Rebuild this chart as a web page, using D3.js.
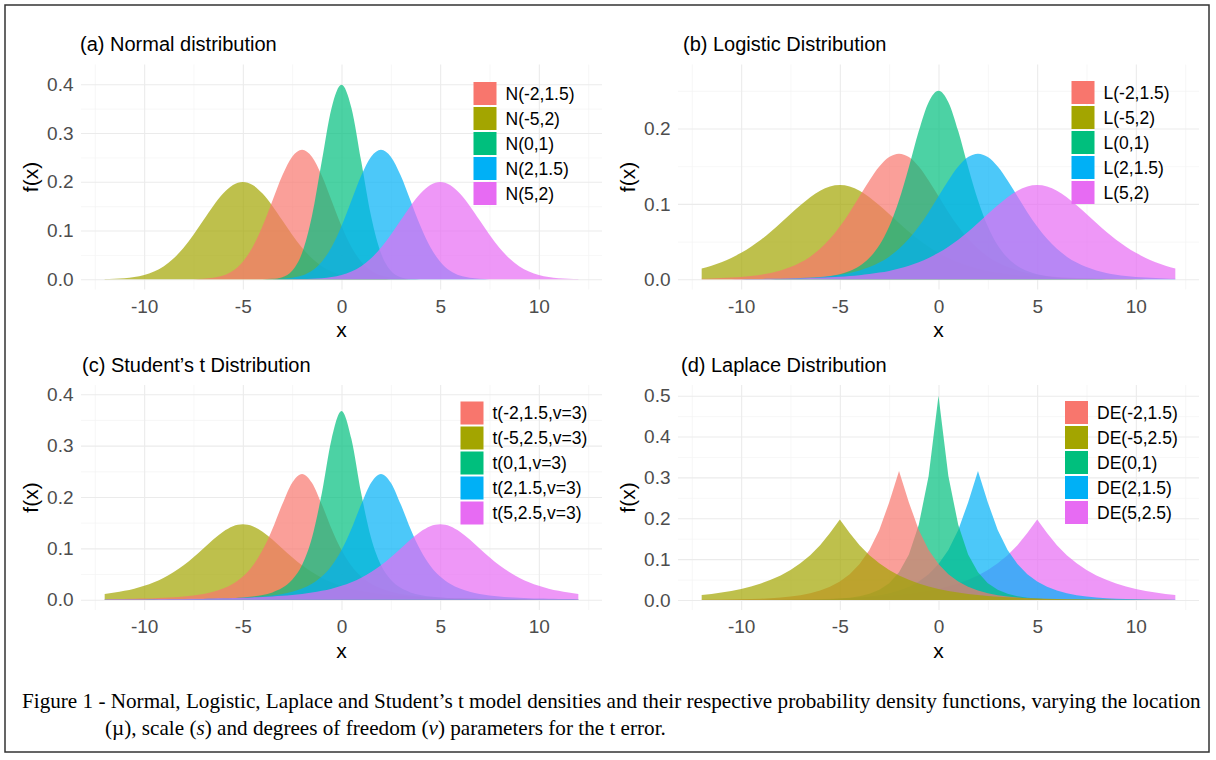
<!DOCTYPE html>
<html>
<head>
<meta charset="utf-8">
<script src="https://cdn.jsdelivr.net/npm/d3@7"></script>
<style>
  body { margin: 0; background: #fff; }
  svg { display: block; font-family: "Liberation Sans", Arial, sans-serif; }
</style>
</head>
<body>
<svg id="fig" width="1216" height="760"></svg>
<script>
// x grid shared by every density curve
const xGrid = [-12,-11.5,-11,-10.5,-10,-9.5,-9,-8.5,-8,-7.5,-7,-6.5,-6,-5.5,-5,-4.5,-4,-3.5,-3,-2.5,-2,-1.5,-1,-0.5,0,0.5,1,1.5,2,2.5,3,3.5,4,4.5,5,5.5,6,6.5,7,7.5,8,8.5,9,9.5,10,10.5,11,11.5,12];

// (a) Normal
const normalLabels = ['N(-2,1.5)', 'N(-5,2)', 'N(0,1)', 'N(2,1.5)', 'N(5,2)'];
const nMinus2 = [0,0,0,0,0,0,0,0,.0001,.0003,.0010,.0030,.0076,.0175,.0360,.0663,.1094,.1613,.2130,.2516,.2660,.2516,.2130,.1613,.1094,.0663,.0360,.0175,.0076,.0030,.0010,.0003,.0001,0,0,0,0,0,0,0,0,0,0,0,0,0,0,0,0];
const nMinus5 = [.0004,.0010,.0022,.0045,.0088,.0159,.0270,.0431,.0648,.0913,.1210,.1506,.1760,.1933,.1995,.1933,.1760,.1506,.1210,.0913,.0648,.0431,.0270,.0159,.0088,.0045,.0022,.0010,.0004,.0002,.0001,0,0,0,0,0,0,0,0,0,0,0,0,0,0,0,0,0,0];
const nZero = [0,0,0,0,0,0,0,0,0,0,0,0,0,0,0,0,.0001,.0009,.0044,.0175,.0540,.1295,.2420,.3521,.3989,.3521,.2420,.1295,.0540,.0175,.0044,.0009,.0001,0,0,0,0,0,0,0,0,0,0,0,0,0,0,0,0];
const nPlus2 = [0,0,0,0,0,0,0,0,0,0,0,0,0,0,0,0,.0001,.0003,.0010,.0030,.0076,.0175,.0360,.0663,.1094,.1613,.2130,.2516,.2660,.2516,.2130,.1613,.1094,.0663,.0360,.0175,.0076,.0030,.0010,.0003,.0001,0,0,0,0,0,0,0,0];
const nPlus5 = [0,0,0,0,0,0,0,0,0,0,0,0,0,0,0,0,0,0,.0001,.0002,.0004,.0010,.0022,.0045,.0088,.0159,.0270,.0431,.0648,.0913,.1210,.1506,.1760,.1933,.1995,.1933,.1760,.1506,.1210,.0913,.0648,.0431,.0270,.0159,.0088,.0045,.0022,.0010,.0004];

// (b) Logistic
const logisticLabels = ['L(-2,1.5)', 'L(-5,2)', 'L(0,1)', 'L(2,1.5)', 'L(5,2)'];
const lMinus2 = [.0008,.0012,.0016,.0023,.0032,.0044,.0062,.0085,.0118,.0162,.0222,.0301,.0405,.0537,.0700,.0891,.1101,.1311,.1495,.1621,.1667,.1621,.1495,.1311,.1101,.0891,.0700,.0537,.0405,.0301,.0222,.0162,.0118,.0085,.0062,.0044,.0032,.0023,.0016,.0012,.0008,.0006,.0004,.0003,.0002,.0002,.0001,.0001,.0001];
const lMinus5 = [.0143,.0180,.0226,.0283,.0351,.0432,.0525,.0631,.0746,.0866,.0983,.1090,.1175,.1231,.1250,.1231,.1175,.1090,.0983,.0866,.0746,.0631,.0525,.0432,.0351,.0283,.0226,.0180,.0143,.0112,.0089,.0069,.0054,.0043,.0033,.0026,.0020,.0016,.0012,.0010,.0008,.0006,.0005,.0004,.0003,.0002,.0002,.0001,.0001];
const lZero = [0,0,0,0,0,.0001,.0001,.0002,.0003,.0006,.0009,.0015,.0025,.0041,.0066,.0109,.0177,.0285,.0452,.0701,.1050,.1491,.1966,.2350,.2500,.2350,.1966,.1491,.1050,.0701,.0452,.0285,.0177,.0109,.0066,.0041,.0025,.0015,.0009,.0006,.0003,.0002,.0001,.0001,0,0,0,0,0];
const lPlus2 = [.0001,.0001,.0001,.0002,.0002,.0003,.0004,.0006,.0008,.0012,.0016,.0023,.0032,.0044,.0062,.0085,.0118,.0162,.0222,.0301,.0405,.0537,.0700,.0891,.1101,.1311,.1495,.1621,.1667,.1621,.1495,.1311,.1101,.0891,.0700,.0537,.0405,.0301,.0222,.0162,.0118,.0085,.0062,.0044,.0032,.0023,.0016,.0012,.0008];
const lPlus5 = [.0001,.0001,.0002,.0002,.0003,.0004,.0005,.0006,.0008,.0010,.0012,.0016,.0020,.0026,.0033,.0043,.0054,.0069,.0089,.0112,.0143,.0180,.0226,.0283,.0351,.0432,.0525,.0631,.0746,.0866,.0983,.1090,.1175,.1231,.1250,.1231,.1175,.1090,.0983,.0866,.0746,.0631,.0525,.0432,.0351,.0283,.0226,.0180,.0143];

// (c) Student's t, v = 3
const tLabels = ['t(-2,1.5,v=3)', 't(-5,2.5,v=3)', 't(0,1,v=3)', 't(2,1.5,v=3)', 't(5,2.5,v=3)'];
const tMinus2 = [.0010,.0012,.0015,.0018,.0022,.0028,.0036,.0047,.0061,.0082,.0111,.0153,.0216,.0309,.0450,.0661,.0966,.1378,.1859,.2279,.2450,.2279,.1859,.1378,.0966,.0661,.0450,.0309,.0216,.0153,.0111,.0082,.0061,.0047,.0036,.0028,.0022,.0018,.0015,.0012,.0010,.0008,.0007,.0006,.0005,.0004,.0004,.0003,.0003];
const tMinus5 = [.0113,.0139,.0172,.0215,.0270,.0340,.0428,.0538,.0671,.0827,.0999,.1172,.1325,.1432,.1470,.1432,.1325,.1172,.0999,.0827,.0671,.0538,.0428,.0340,.0270,.0215,.0172,.0139,.0113,.0092,.0075,.0062,.0052,.0044,.0037,.0031,.0026,.0023,.0020,.0017,.0015,.0013,.0011,.0010,.0009,.0008,.0007,.0006,.0005];
const tZero = [.0002,.0002,.0002,.0003,.0003,.0004,.0005,.0006,.0007,.0009,.0012,.0016,.0022,.0030,.0042,.0061,.0092,.0142,.0230,.0387,.0675,.1200,.2067,.3132,.3676,.3132,.2067,.1200,.0675,.0387,.0230,.0142,.0092,.0061,.0042,.0030,.0022,.0016,.0012,.0009,.0007,.0006,.0005,.0004,.0003,.0003,.0002,.0002,.0002];
const tPlus2 = [.0003,.0003,.0004,.0004,.0005,.0006,.0007,.0008,.0010,.0012,.0015,.0018,.0022,.0028,.0036,.0047,.0061,.0082,.0111,.0153,.0216,.0309,.0450,.0661,.0966,.1378,.1859,.2279,.2450,.2279,.1859,.1378,.0966,.0661,.0450,.0309,.0216,.0153,.0111,.0082,.0061,.0047,.0036,.0028,.0022,.0018,.0015,.0012,.0010];
const tPlus5 = [.0005,.0006,.0007,.0008,.0009,.0010,.0011,.0013,.0015,.0017,.0020,.0023,.0026,.0031,.0037,.0044,.0052,.0062,.0075,.0092,.0113,.0139,.0172,.0215,.0270,.0340,.0428,.0538,.0671,.0827,.0999,.1172,.1325,.1432,.1470,.1432,.1325,.1172,.0999,.0827,.0671,.0538,.0428,.0340,.0270,.0215,.0172,.0139,.0113];

// (d) Laplace
const laplaceLabels = ['DE(-2,1.5)', 'DE(-5,2.5)', 'DE(0,1)', 'DE(2,1.5)', 'DE(5,2.5)'];
const deMinus2 = [.0004,.0006,.0008,.0012,.0016,.0022,.0031,.0044,.0061,.0085,.0119,.0166,.0232,.0323,.0451,.0630,.0879,.1226,.1711,.2388,.3160,.2388,.1711,.1226,.0879,.0630,.0451,.0323,.0232,.0166,.0119,.0085,.0061,.0044,.0031,.0022,.0016,.0012,.0008,.0006,.0004,.0003,.0002,.0002,.0001,.0001,.0001,0,0];
const deMinus5 = [.0122,.0149,.0181,.0222,.0271,.0331,.0404,.0493,.0602,.0736,.0899,.1098,.1341,.1637,.1970,.1637,.1341,.1098,.0899,.0736,.0602,.0493,.0404,.0331,.0271,.0222,.0181,.0149,.0122,.0100,.0082,.0067,.0055,.0045,.0037,.0030,.0025,.0020,.0016,.0013,.0011,.0009,.0007,.0006,.0005,.0004,.0003,.0003,.0002];
const deZero = [0,0,0,0,0,0,.0001,.0001,.0002,.0003,.0005,.0008,.0012,.0020,.0034,.0056,.0092,.0151,.0249,.0410,.0677,.1116,.1839,.3033,.5000,.3033,.1839,.1116,.0677,.0410,.0249,.0151,.0092,.0056,.0034,.0020,.0012,.0008,.0005,.0003,.0002,.0001,.0001,0,0,0,0,0,0];
const dePlus2 = [0,0,.0001,.0001,.0001,.0002,.0002,.0003,.0004,.0006,.0008,.0012,.0016,.0022,.0031,.0044,.0061,.0085,.0119,.0166,.0232,.0323,.0451,.0630,.0879,.1226,.1711,.2388,.3160,.2388,.1711,.1226,.0879,.0630,.0451,.0323,.0232,.0166,.0119,.0085,.0061,.0044,.0031,.0022,.0016,.0012,.0008,.0006,.0004];
const dePlus5 = [.0002,.0003,.0003,.0004,.0005,.0006,.0007,.0009,.0011,.0013,.0016,.0020,.0025,.0030,.0037,.0045,.0055,.0067,.0082,.0100,.0122,.0149,.0181,.0222,.0271,.0331,.0404,.0493,.0602,.0736,.0899,.1098,.1341,.1637,.1970,.1637,.1341,.1098,.0899,.0736,.0602,.0493,.0404,.0331,.0271,.0222,.0181,.0149,.0122];

// ticks
const xTicks = [-10, -5, 0, 5, 10];
const xMinor = [-12.5, -7.5, -2.5, 2.5, 7.5, 12.5];
const yTicksA = [0, 0.1, 0.2, 0.3, 0.4];
const yMinorA = [0.05, 0.15, 0.25, 0.35];
const yTicksB = [0, 0.1, 0.2];
const yMinorB = [0.05, 0.15, 0.25];
const yTicksD = [0, 0.1, 0.2, 0.3, 0.4, 0.5];
const yMinorD = [0.05, 0.15, 0.25, 0.35, 0.45];

// ggplot default hue palette
const colors = ['#F8766D', '#A3A500', '#00BF7D', '#00B0F6', '#E76BF3'];

const plotW = 521, plotH = 225;
const xDomain = [-13.2, 13.2];

// stacking order of the areas (index into series), bottom first
const orderByLocation = [1, 0, 2, 3, 4];
const orderReversed = [4, 3, 2, 0, 1];

const panels = [
    { title: '(a) Normal distribution', labels: normalLabels,
      series: [nMinus2, nMinus5, nZero, nPlus2, nPlus5], order: orderByLocation,
      yTicks: yTicksA, yMinor: yMinorA, yDomain: [-0.0209, 0.4406],
      left: 81, top: 64.5, titleX: 80, legendX: 473.5, legendY: 82, curve: d3.curveMonotoneX },
    { title: '(b) Logistic Distribution', labels: logisticLabels,
      series: [lMinus2, lMinus5, lZero, lPlus2, lPlus5], order: orderByLocation,
      yTicks: yTicksB, yMinor: yMinorB, yDomain: [-0.0135, 0.2849],
      left: 678, top: 64.5, titleX: 683, legendX: 1071.5, legendY: 81, curve: d3.curveMonotoneX },
    { title: '(c) Student\u2019s t Distribution', labels: tLabels,
      series: [tMinus2, tMinus5, tZero, tPlus2, tPlus5], order: orderByLocation,
      yTicks: yTicksA, yMinor: yMinorA, yDomain: [-0.0201, 0.4181],
      left: 81, top: 385, titleX: 82, legendX: 460.5, legendY: 401.5, curve: d3.curveMonotoneX },
    { title: '(d) Laplace Distribution', labels: laplaceLabels,
      series: [deMinus2, deMinus5, deZero, dePlus2, dePlus5], order: orderReversed,
      yTicks: yTicksD, yMinor: yMinorD, yDomain: [-0.0245, 0.5262],
      left: 678, top: 385, titleX: 681, legendX: 1065, legendY: 401, curve: d3.curveLinear }
];

const svg = d3.select('#fig');

// frame around the figure
svg.append('rect')
    .attr('x', 5).attr('y', 5)
    .attr('width', 1204).attr('height', 747)
    .attr('fill', 'none')
    .attr('stroke', '#333')
    .attr('stroke-width', 1.5);

function styleGrid(g, color, width) {
    g.select('.domain').remove();
    g.selectAll('.tick line').attr('stroke', color).attr('stroke-width', width);
}

panels.forEach(p => {
    const x = d3.scaleLinear().domain(xDomain).range([p.left, p.left + plotW]);
    const y = d3.scaleLinear().domain(p.yDomain).range([p.top + plotH, p.top]);
    const bottom = p.top + plotH;
    const g = svg.append('g');

    // minor grid
    g.append('g')
        .attr('transform', `translate(0,${p.top})`)
        .call(d3.axisBottom(x).tickValues(xMinor).tickSize(plotH).tickFormat(''))
        .call(s => styleGrid(s, '#f3f3f3', 0.7));
    g.append('g')
        .attr('transform', `translate(${p.left},0)`)
        .call(d3.axisRight(y).tickValues(p.yMinor).tickSize(plotW).tickFormat(''))
        .call(s => styleGrid(s, '#f3f3f3', 0.7));

    // major grid
    g.append('g')
        .attr('transform', `translate(0,${p.top})`)
        .call(d3.axisBottom(x).tickValues(xTicks).tickSize(plotH).tickFormat(''))
        .call(s => styleGrid(s, '#ebebeb', 1.1));
    g.append('g')
        .attr('transform', `translate(${p.left},0)`)
        .call(d3.axisRight(y).tickValues(p.yTicks).tickSize(plotW).tickFormat(''))
        .call(s => styleGrid(s, '#ebebeb', 1.1));

    // density areas
    const area = d3.area()
        .x((d, j) => x(xGrid[j]))
        .y0(y(0))
        .y1(d => y(d))
        .curve(p.curve);
    p.order.forEach(i => {
        g.append('path')
            .datum(p.series[i])
            .attr('d', area)
            .attr('fill', colors[i])
            .attr('fill-opacity', 0.7);
    });

    // axis labels
    const xAxis = g.append('g')
        .attr('transform', `translate(0,${bottom})`)
        .call(d3.axisBottom(x).tickValues(xTicks).tickSize(0).tickPadding(10).tickFormat(d => String(d)));
    xAxis.select('.domain').remove();
    xAxis.selectAll('text')
        .attr('font-family', '"Liberation Sans", Arial, sans-serif')
        .attr('font-size', 19)
        .attr('fill', '#4d4d4d');

    const yAxis = g.append('g')
        .attr('transform', `translate(${p.left},0)`)
        .call(d3.axisLeft(y).tickValues(p.yTicks).tickSize(0).tickPadding(7.5).tickFormat(d3.format('.1f')));
    yAxis.select('.domain').remove();
    yAxis.selectAll('text')
        .attr('font-family', '"Liberation Sans", Arial, sans-serif')
        .attr('font-size', 19)
        .attr('fill', '#4d4d4d');

    // titles
    g.append('text')
        .attr('x', p.titleX).attr('y', p.top - 13.5)
        .attr('font-size', 20)
        .attr('fill', '#000')
        .text(p.title);
    g.append('text')
        .attr('x', p.left + plotW / 2).attr('y', bottom + 47.5)
        .attr('text-anchor', 'middle')
        .attr('font-size', 21)
        .attr('fill', '#000')
        .text('x');
    g.append('text')
        .attr('transform', `translate(${p.left - 43},${p.top + plotH / 2}) rotate(-90)`)
        .attr('text-anchor', 'middle')
        .attr('font-size', 21)
        .attr('fill', '#000')
        .text('f(x)');

    // legend
    const leg = g.append('g').attr('transform', `translate(${p.legendX},${p.legendY})`);
    p.labels.forEach((lab, i) => {
        leg.append('rect')
            .attr('x', 0).attr('y', i * 25)
            .attr('width', 23).attr('height', 23)
            .attr('fill', colors[i]);
        leg.append('text')
            .attr('x', 32).attr('y', i * 25 + 11.5)
            .attr('dy', '0.35em')
            .attr('font-size', 17.5)
            .attr('fill', '#000')
            .text(lab);
    });
});

// caption
const cap = svg.append('g')
    .attr('font-family', '"Liberation Serif", "Times New Roman", serif')
    .attr('fill', '#000');
const line1 = cap.append('text')
    .attr('x', 22).attr('y', 708)
    .attr('font-size', 20)
    .text('Figure 1 - Normal, Logistic, Laplace and Student\u2019s t model densities and their respective probability density functions, varying the location');
const w = line1.node().getComputedTextLength();
const capSize = 20 * 1179 / w;
line1.attr('font-size', capSize);
const line2 = cap.append('text')
    .attr('x', 105).attr('y', 735)
    .attr('font-size', capSize);
line2.append('tspan').text('(\u00b5), scale (');
line2.append('tspan').attr('font-style', 'italic').text('s');
line2.append('tspan').text(') and degrees of freedom (');
line2.append('tspan').attr('font-style', 'italic').text('v');
line2.append('tspan').text(') parameters for the t error.');
</script>
</body>
</html>
